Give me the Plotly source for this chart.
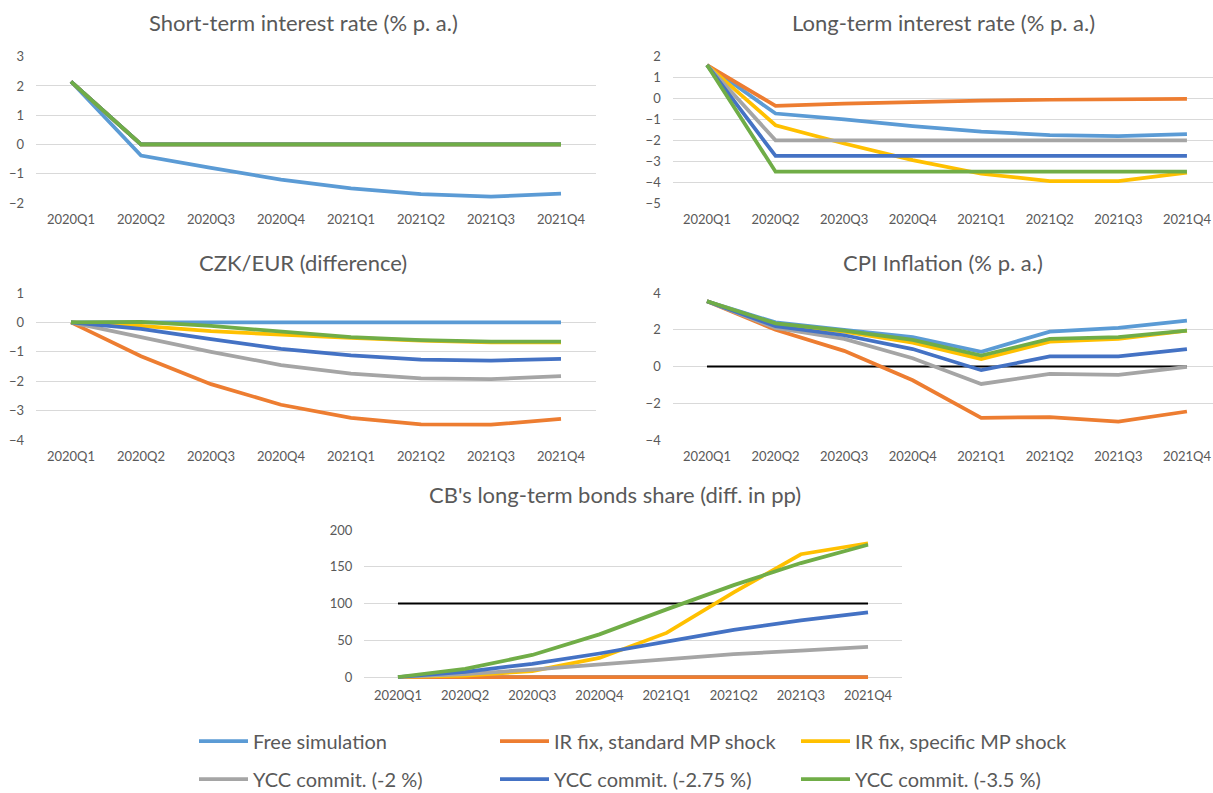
import plotly.graph_objects as go

quarters = ["2020Q1", "2020Q2", "2020Q3", "2020Q4", "2021Q1", "2021Q2", "2021Q3", "2021Q4"]

series_names = [
    "Free simulation",
    "IR fix, standard MP shock",
    "IR fix, specific MP shock",
    "YCC commit. (-2 %)",
    "YCC commit. (-2.75 %)",
    "YCC commit. (-3.5 %)",
]
series_colors = ["#5B9BD5", "#ED7D31", "#FFC000", "#A5A5A5", "#4472C4", "#70AD47"]

# Short-term interest rate (% p. a.)
short_free = [2.15, -0.38, -0.80, -1.20, -1.50, -1.70, -1.78, -1.68]
short_ir_std = [2.15, 0, 0, 0, 0, 0, 0, 0]
short_ir_spec = [2.15, 0, 0, 0, 0, 0, 0, 0]
short_ycc_200 = [2.15, 0, 0, 0, 0, 0, 0, 0]
short_ycc_275 = [2.15, 0, 0, 0, 0, 0, 0, 0]
short_ycc_350 = [2.15, 0, 0, 0, 0, 0, 0, 0]

# Long-term interest rate (% p. a.)
long_free = [1.6, -0.72, -1.00, -1.32, -1.58, -1.75, -1.80, -1.70]
long_ir_std = [1.6, -0.35, -0.25, -0.17, -0.10, -0.06, -0.03, -0.02]
long_ir_spec = [1.6, -1.28, -2.15, -2.95, -3.60, -3.95, -3.95, -3.55]
long_ycc_200 = [1.6, -2.0, -2.0, -2.0, -2.0, -2.0, -2.0, -2.0]
long_ycc_275 = [1.6, -2.75, -2.75, -2.75, -2.75, -2.75, -2.75, -2.75]
long_ycc_350 = [1.6, -3.5, -3.5, -3.5, -3.5, -3.5, -3.5, -3.5]

# CZK/EUR (difference)
fx_free = [0, 0, 0, 0, 0, 0, 0, 0]
fx_ir_std = [0, -1.15, -2.10, -2.80, -3.25, -3.47, -3.48, -3.28]
fx_ir_spec = [0, -0.12, -0.30, -0.42, -0.53, -0.62, -0.68, -0.68]
fx_ycc_200 = [0, -0.50, -1.00, -1.45, -1.74, -1.90, -1.93, -1.83]
fx_ycc_275 = [0, -0.22, -0.57, -0.90, -1.12, -1.27, -1.30, -1.24]
fx_ycc_350 = [0, 0.02, -0.12, -0.30, -0.50, -0.60, -0.65, -0.65]

# CPI inflation (% p. a.)
cpi_free = [3.55, 2.40, 2.00, 1.60, 0.80, 1.90, 2.10, 2.50]
cpi_ir_std = [3.55, 2.00, 0.85, -0.75, -2.80, -2.75, -3.00, -2.45]
cpi_ir_spec = [3.55, 2.30, 1.90, 1.30, 0.40, 1.35, 1.50, 1.95]
cpi_ycc_200 = [3.55, 2.10, 1.50, 0.45, -0.95, -0.40, -0.45, -0.02]
cpi_ycc_275 = [3.55, 2.20, 1.70, 0.95, -0.20, 0.55, 0.55, 0.95]
cpi_ycc_350 = [3.55, 2.35, 1.95, 1.45, 0.60, 1.50, 1.60, 1.95]
cpi_reference = [0, 0, 0, 0, 0, 0, 0, 0]

# CB's long-term bonds share (diff. in pp)
cb_free = [0, 0, 0, 0, 0, 0, 0, 0]
cb_ir_std = [0, 0, 0, 0, 0, 0, 0, 0]
cb_ir_spec = [0, 2, 8, 26, 60, 115, 167, 182]
cb_ycc_200 = [0, 4, 10, 17, 24, 31, 36, 41]
cb_ycc_275 = [0, 7, 18, 32, 48, 64, 77, 88]
cb_ycc_350 = [0, 11, 30, 58, 92, 125, 155, 180]
cb_reference = [100, 100, 100, 100, 100, 100, 100, 100]

panels = [
    {
        "title": "Short-term interest rate (% p. a.)",
        "data": [short_free, short_ir_std, short_ir_spec, short_ycc_200, short_ycc_275, short_ycc_350],
        "reference": None,
        "yrange": [-2, 3], "dtick": 1,
    },
    {
        "title": "Long-term interest rate (% p. a.)",
        "data": [long_free, long_ir_std, long_ir_spec, long_ycc_200, long_ycc_275, long_ycc_350],
        "reference": None,
        "yrange": [-5, 2], "dtick": 1,
    },
    {
        "title": "CZK/EUR (difference)",
        "data": [fx_free, fx_ir_std, fx_ir_spec, fx_ycc_200, fx_ycc_275, fx_ycc_350],
        "reference": None,
        "yrange": [-4, 1], "dtick": 1,
    },
    {
        "title": "CPI Inflation (% p. a.)",
        "data": [cpi_free, cpi_ir_std, cpi_ir_spec, cpi_ycc_200, cpi_ycc_275, cpi_ycc_350],
        "reference": cpi_reference,
        "yrange": [-4, 4], "dtick": 2,
    },
    {
        "title": "CB's long-term bonds share (diff. in pp)",
        "data": [cb_free, cb_ir_std, cb_ir_spec, cb_ycc_200, cb_ycc_275, cb_ycc_350],
        "reference": cb_reference,
        "yrange": [-3, 200], "dtick": 50,
    },
]

W, H = 1213, 793
FONT = "Lato, 'Open Sans', sans-serif"
TEXT_GREY = "#595959"
GRID = "#D9D9D9"

# pixel geometry of each plot area: (left, right, top, bottom, x-range end)
boxes = [
    (36.0, 596.0, 56.7, 203.0, 7.5),
    (672.7, 1213.0, 56.7, 203.0, 7.38),
    (36.0, 596.0, 293.0, 440.0, 7.5),
    (672.7, 1213.0, 293.0, 440.0, 7.38),
    (364.4, 901.6, 530.0, 679.2, 7.5),
]
title_pos = [(303, 22), (943, 22), (303, 262), (943, 262), (615, 494)]

fig = go.Figure()
layout = {}
annotations = []

for i, (panel, box) in enumerate(zip(panels, boxes)):
    n = "" if i == 0 else str(i + 1)
    xref, yref = "x" + n, "y" + n
    left, right, top, bottom, xend = box

    if panel["reference"] is not None:
        fig.add_trace(go.Scatter(
            x=quarters, y=panel["reference"], xaxis=xref, yaxis=yref,
            mode="lines", line=dict(color="#000000", width=2),
            showlegend=False, hoverinfo="skip",
        ))

    for k, (name, color, vals) in enumerate(zip(series_names, series_colors, panel["data"])):
        fig.add_trace(go.Scatter(
            x=quarters, y=vals, xaxis=xref, yaxis=yref,
            mode="lines", name=name,
            line=dict(color=color, width=3.75),
            showlegend=(i == 0),
            legend="legend" if k < 3 else "legend2",
        ))

    layout["xaxis" + n] = dict(
        domain=[left / W, right / W], anchor=yref,
        type="category", range=[-0.5, xend],
        showgrid=False, zeroline=False, showline=False,
        ticks="outside", ticklen=4, tickcolor="rgba(0,0,0,0)",
        tickfont=dict(family=FONT, size=13, color=TEXT_GREY),
        automargin=False, fixedrange=True,
    )
    layout["yaxis" + n] = dict(
        domain=[1 - bottom / H, 1 - top / H], anchor=xref,
        range=panel["yrange"], dtick=panel["dtick"], tick0=0,
        showgrid=True, gridcolor=GRID, gridwidth=1,
        zeroline=False, showline=False, ticks="",
        tickfont=dict(family=FONT, size=13, color=TEXT_GREY),
        ticklabelstandoff=11, automargin=False, fixedrange=True,
    )

    tx, ty = title_pos[i]
    annotations.append(dict(
        text=panel["title"], x=tx / W, y=1 - ty / H, xref="paper", yref="paper",
        xanchor="center", yanchor="middle", showarrow=False,
        font=dict(family=FONT, size=22, color=TEXT_GREY),
    ))

legend_common = dict(
    orientation="h", xanchor="left", yanchor="middle",
    xref="container", yref="container",
    bgcolor="rgba(0,0,0,0)", borderwidth=0,
    font=dict(family=FONT, size=20, color=TEXT_GREY),
    itemwidth=49, entrywidth=237, entrywidthmode="pixels",
    itemclick=False, itemdoubleclick=False,
)

fig.update_layout(
    width=W, height=H,
    margin=dict(l=0, r=0, t=0, b=0, autoexpand=False),
    paper_bgcolor="white", plot_bgcolor="white",
    annotations=annotations,
    legend=dict(x=194 / W, y=1 - 741 / H, **legend_common),
    legend2=dict(x=194 / W, y=1 - 779 / H, **legend_common),
    **layout,
)

fig.write_html("out.html")
